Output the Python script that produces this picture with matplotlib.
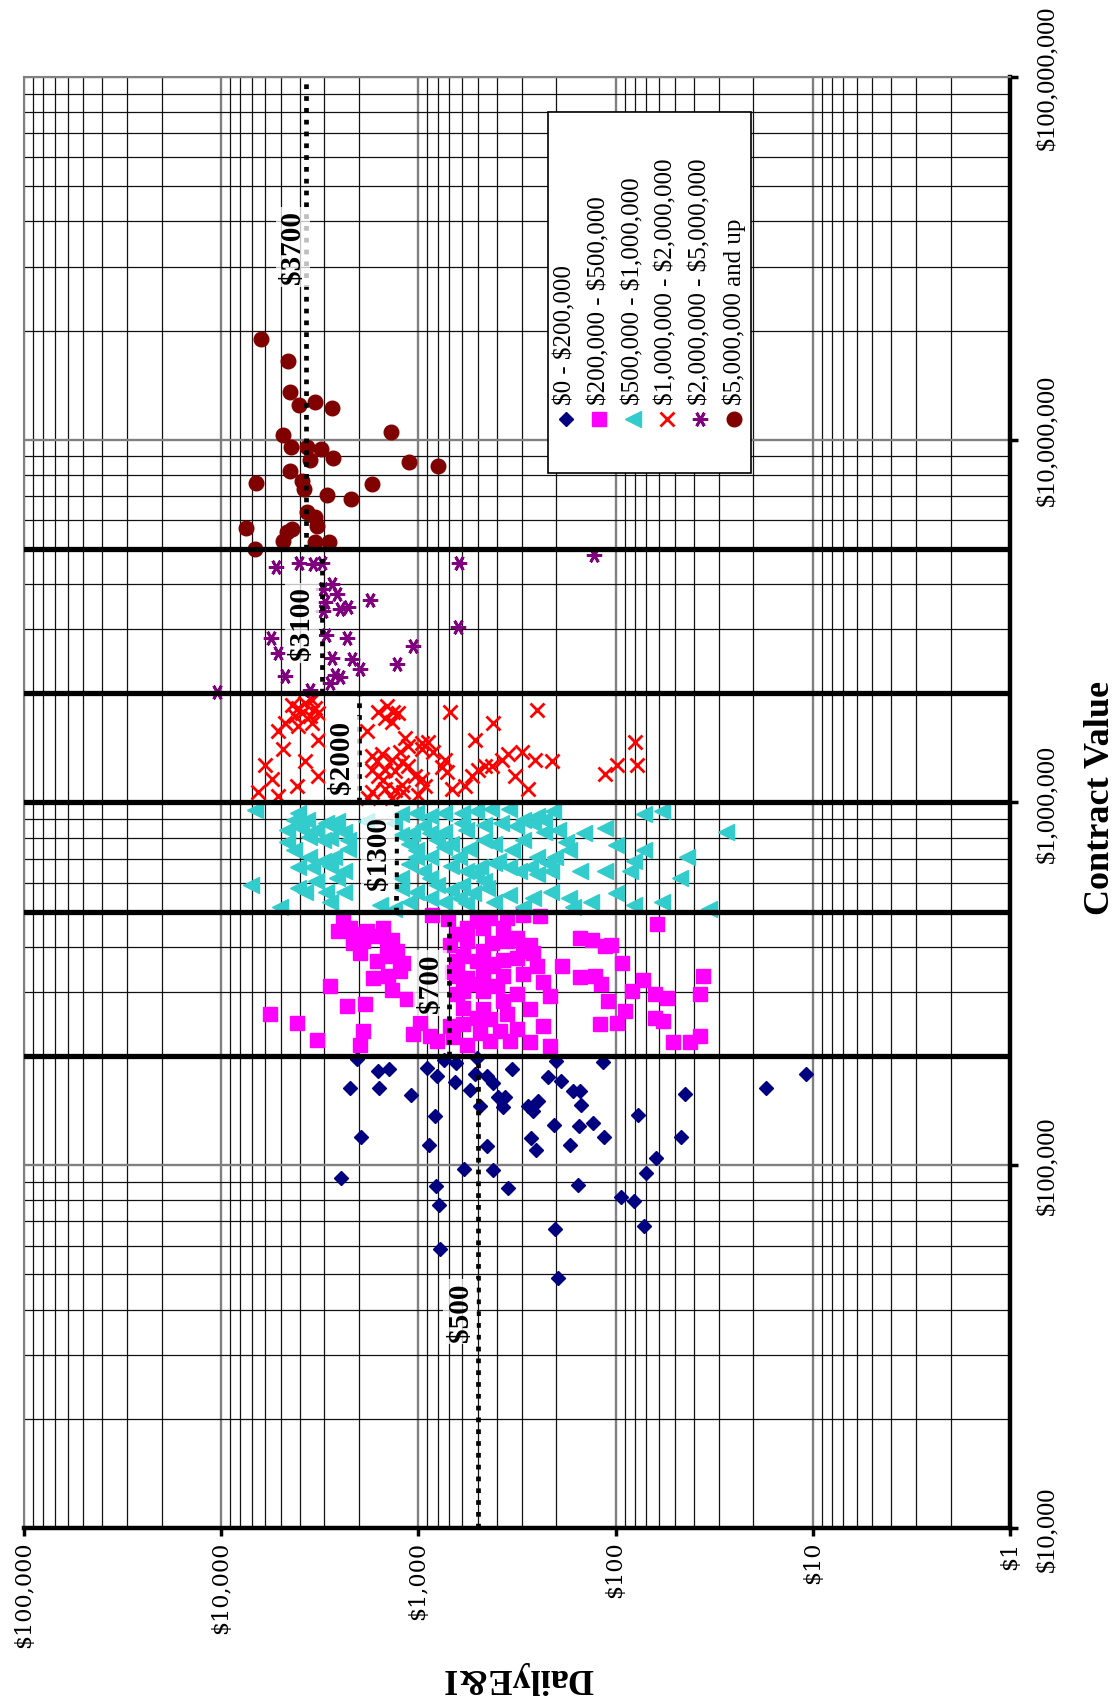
import matplotlib.pyplot as plt
from matplotlib.ticker import FixedLocator, LogLocator, NullFormatter
from matplotlib.patches import Rectangle

plt.rcParams['font.family'] = ['Liberation Serif', 'DejaVu Serif']
plt.rcParams['text.parse_math'] = False

# contract value bands
band_labels = ['$0 - $200,000', '$200,000 - $500,000', '$500,000 - $1,000,000',
               '$1,000,000 - $2,000,000', '$2,000,000 - $5,000,000', '$5,000,000 and up']
band_edges = [1e4, 2e5, 5e5, 1e6, 2e6, 5e6, 1e8]
median_ei = [500, 700, 1300, 2000, 3100, 3700]
median_text = ['$500', '$700', '$1300', '$2000', '$3100', '$3700']

# daily E&I (x) and contract value (y) per band
ei_a = [2060, 1610, 1410, 2220, 1580, 1090, 908, 808, 742, 645, 652, 506, 516, 547, 451, 417,
        487, 393, 364, 371, 334, 277, 261, 248, 221, 201, 189, 164, 152, 150, 116, 824, 1954,
        884, 451, 269, 254, 205, 170, 153, 130, 114, 76.7, 44.5, 46.6, 62.4, 70.4, 2469, 585,
        420, 814, 353, 155, 786, 94.3, 80.4, 204, 71.5, 777, 197, 17.3, 10.8]
cv_a = [196e3, 182e3, 184e3, 163e3, 163e3, 156e3, 185e3, 176e3, 195e3, 191e3, 170e3, 197e3,
        178e3, 161e3, 176e3, 169e3, 146e3, 154e3, 154e3, 145e3, 184e3, 146e3, 141e3, 150e3,
        175e3, 194e3, 171e3, 160e3, 160e3, 147e3, 193e3, 137e3, 120e3, 114e3, 113e3, 119e3,
        110e3, 129e3, 114e3, 128e3, 131e3, 120e3, 138e3, 157e3, 120e3, 105e3, 95e3, 92e3,
        97.5e3, 97e3, 87.7e3, 86.8e3, 88e3, 77.8e3, 82e3, 79.8e3, 66.9e3, 67.8e3, 58.7e3,
        49e3, 163e3, 178e3]

ei_b = [2403, 2547, 857, 705, 506, 434, 357, 294, 242, 569, 469, 371, 61.9,
        2056, 1902, 1628, 1367, 2138, 1449, 569, 425, 318, 272, 152, 132, 113, 105,
        1978, 1394, 1193, 592, 506, 442, 371, 318, 261, 251, 188, 93.2,
        2807, 1693, 1421, 1240, 678, 569, 469, 371, 294, 233, 152, 127, 118, 72.3, 35.9,
        1367, 1147, 592, 469, 401, 318, 215, 82.9, 63.1, 55.1, 37.3, 2311, 1866, 109,
        5657, 4143, 592, 469, 357, 272, 434, 89.6, 63.1, 57.3, 120, 98.8,
        3280, 1902, 1978, 982, 1061, 874, 692, 592, 487, 386, 318, 233, 272, 569, 434, 215,
        51.0, 42.0, 37.3,
        2223, 1830, 1506, 1290, 1628, 640, 692, 640, 469, 357, 294, 640, 547, 371, 506, 343,
        665, 808, 640, 417]
cv_b = [476e3, 442e3, 491e3, 476e3, 471e3, 481e3, 481e3, 491e3, 486e3, 452e3, 452e3, 452e3, 463e3,
        433e3, 415e3, 428e3, 419e3, 411e3, 398e3, 415e3, 411e3, 424e3, 406e3, 424e3, 419e3, 402e3, 406e3,
        385e3, 377e3, 362e3, 377e3, 366e3, 354e3, 369e3, 373e3, 385e3, 354e3, 354e3, 362e3,
        312e3, 329e3, 332e3, 343e3, 340e3, 329e3, 332e3, 332e3, 336e3, 319e3, 330e3, 332e3, 315e3,
        325e3, 332e3,
        305e3, 287e3, 302e3, 302e3, 312e3, 296e3, 293e3, 302e3, 296e3, 290e3, 296e3, 275e3, 278e3, 284e3,
        261e3, 247e3, 272e3, 269e3, 262e3, 269e3, 253e3, 266e3, 255e3, 250e3, 245e3, 247e3,
        221e3, 235e3, 215e3, 247e3, 230e3, 227e3, 242e3, 245e3, 232e3, 235e3, 237e3, 242e3, 218e3,
        215e3, 220e3, 213e3, 218e3, 218e3, 227e3,
        452e3, 442e3, 452e3, 390e3, 366e3, 433e3, 406e3, 366e3, 390e3, 415e3, 390e3, 296e3, 315e3,
        284e3, 255e3, 220e3, 225e3, 220e3, 332e3, 358e3]

ei_c = [6740, 4087, 3681, 2927, 2583, 1850, 1220, 1032, 874, 739, 600, 508, 430, 349, 295, 250,
        230, 207, 71.6, 58.1,
        4630, 3920, 3317, 2693, 2377, 4630, 3606, 2807, 2279, 1220, 1076, 874, 739, 600, 576, 467,
        379, 321, 261, 230, 195, 145, 113, 27.4,
        4260, 3606, 3051, 2693, 2279, 1122, 1032, 874, 739, 680, 552, 467, 396, 335, 295, 250, 203,
        179, 172, 99.9, 71.6, 43.4, 81.1, 221, 272,
        7025, 4087, 3458, 2807, 2377, 1122, 949, 874, 680, 576, 508, 467, 412, 349, 308, 250, 212,
        152, 113, 84.6, 47.2,
        4087, 3317, 2927, 2377, 1220, 1032, 874, 680, 600, 530, 448, 349, 261, 212, 172, 134, 99.9,
        81.1, 58.1, 2807,
        5032, 1566, 1326, 1122, 739, 576, 412, 295, 165, 33.8,
        1326, 949, 804, 626, 487, 1220, 804, 626, 1032, 412, 4260, 3051, 2583, 3760]
cv_c = [953e3, 937e3, 897e3, 878e3, 887e3, 887e3, 927e3, 937e3, 917e3, 937e3, 937e3, 947e3, 957e3,
        957e3, 897e3, 917e3, 897e3, 947e3, 927e3, 947e3,
        840e3, 850e3, 840e3, 859e3, 831e3, 779e3, 805e3, 796e3, 787e3, 813e3, 822e3, 822e3, 831e3,
        878e3, 840e3, 868e3, 878e3, 859e3, 878e3, 831e3, 840e3, 822e3, 850e3, 831e3,
        738e3, 706e3, 691e3, 706e3, 746e3, 770e3, 738e3, 706e3, 754e3, 770e3, 746e3, 787e3, 691e3,
        738e3, 787e3, 706e3, 706e3, 779e3, 738e3, 762e3, 738e3, 706e3, 691e3, 683e3, 662e3,
        593e3, 662e3, 662e3, 669e3, 647e3, 676e3, 647e3, 620e3, 669e3, 647e3, 634e3, 607e3, 683e3,
        662e3, 647e3, 634e3, 647e3, 647e3, 647e3, 647e3, 620e3,
        581e3, 607e3, 568e3, 568e3, 581e3, 568e3, 544e3, 574e3, 593e3, 562e3, 581e3, 556e3, 544e3,
        568e3, 544e3, 532e3, 562e3, 521e3, 532e3, 532e3,
        515e3, 521e3, 510e3, 532e3, 532e3, 527e3, 532e3, 515e3, 515e3, 510e3,
        878e3, 859e3, 787e3, 706e3, 662e3, 620e3, 593e3, 544e3, 706e3, 770e3, 897e3, 787e3, 620e3,
        568e3]

ei_d = [4392, 4063, 3758, 3477, 3344, 4224, 3908, 3545, 3217, 4748, 1597, 1448, 1340, 1264, 1477,
        1366, 692, 251, 417,
        5132, 4063, 3477, 1830, 1169, 1125, 516, 79.7, 4841, 3217,
        962, 890, 840, 1240, 1726, 1536, 1628, 1366, 1216, 733, 3758, 5996, 460, 378, 350, 300, 256,
        211, 98.8, 78.2, 962,
        1726, 1477, 1597, 1314, 1125, 1040, 762, 719, 537, 497, 425, 324, 113, 5548, 3217, 962, 1216,
        1506,
        6481, 5132, 4143, 1726, 1477, 1314, 926, 678, 580, 277, 1366, 1192, 1001, 1795]
cv_d = [1.86e6, 1.82e6, 1.88e6, 1.92e6, 1.82e6, 1.73e6, 1.76e6, 1.73e6, 1.76e6, 1.66e6, 1.78e6,
        1.84e6, 1.78e6, 1.76e6, 1.71e6, 1.67e6, 1.78e6, 1.80e6, 1.66e6,
        1.57e6, 1.62e6, 1.66e6, 1.57e6, 1.51e6, 1.43e6, 1.49e6, 1.47e6, 1.40e6, 1.49e6,
        1.46e6, 1.47e6, 1.38e6, 1.38e6, 1.34e6, 1.36e6, 1.30e6, 1.31e6, 1.29e6, 1.31e6, 1.30e6,
        1.27e6, 1.26e6, 1.31e6, 1.36e6, 1.38e6, 1.31e6, 1.30e6, 1.27e6, 1.27e6, 1.40e6,
        1.23e6, 1.23e6, 1.18e6, 1.22e6, 1.26e6, 1.18e6, 1.25e6, 1.21e6, 1.18e6, 1.23e6, 1.26e6,
        1.18e6, 1.20e6, 1.16e6, 1.18e6, 1.16e6, 1.12e6, 1.15e6,
        1.07e6, 1.04e6, 1.11e6, 1.07e6, 1.09e6, 1.08e6, 1.11e6, 1.09e6, 1.11e6, 1.09e6, 1.03e6,
        1.07e6, 1.05e6, 1.03e6]

ei_e = [5274, 4017, 3438, 3094, 620, 128, 2753, 3035, 2597, 1760, 2976, 3035, 2498, 2266, 5591,
        2942, 2311, 627, 1061, 5132, 2753, 2180, 1978, 1289, 4748, 2648, 2498, 2807, 10544, 3545]
cv_e = [4.47e6, 4.58e6, 4.54e6, 4.56e6, 4.58e6, 4.80e6, 4.01e6, 3.87e6, 3.75e6, 3.61e6, 3.56e6,
        3.38e6, 3.42e6, 3.45e6, 2.84e6, 2.90e6, 2.85e6, 3.05e6, 2.70e6, 2.59e6, 2.50e6, 2.48e6,
        2.33e6, 2.41e6, 2.23e6, 2.24e6, 2.22e6, 2.13e6, 2.02e6, 2.04e6]

ei_f = [6284, 4566, 4479, 4017, 3345, 2753, 4842, 1377, 4444, 3658, 3131, 3545, 2700, 1112, 793,
        4479, 3908, 6662, 3803, 2919, 2205, 1713, 3658, 3345, 3255, 7485, 4656, 4392, 4880, 3345,
        2829, 6741]
cv_f = [18.9e6, 16.5e6, 13.5e6, 12.5e6, 12.7e6, 12.2e6, 10.3e6, 10.5e6, 9.53e6, 9.57e6, 9.43e6,
        8.81e6, 8.89e6, 8.70e6, 8.48e6, 8.19e6, 7.71e6, 7.59e6, 7.32e6, 7.06e6, 6.87e6, 7.54e6,
        6.34e6, 6.11e6, 5.80e6, 5.70e6, 5.56e6, 5.68e6, 5.27e6, 5.24e6, 5.24e6, 5.0e6]

ei_ticks = [1e5, 1e4, 1e3, 1e2, 1e1, 1]
ei_ticklabels = ['$100,000', '$10,000', '$1,000', '$100', '$10', '$1']
cv_ticks = [1e4, 1e5, 1e6, 1e7, 1e8]
cv_ticklabels = ['$10,000', '$100,000', '$1,000,000', '$10,000,000', '$100,000,000']

series = [(ei_a, cv_a), (ei_b, cv_b), (ei_c, cv_c), (ei_d, cv_d), (ei_e, cv_e), (ei_f, cv_f)]
styles = [
    dict(marker='D', ms=7.5, color='#000080', mec='#000080'),
    dict(marker='s', ms=10, color='#FF00FF', mec='#FF00FF'),
    dict(marker='<', ms=11, color='#33CCCC', mec='#33CCCC'),
    dict(marker='x', ms=10, color='#FF0000', mew=2),
    dict(marker=(6, 2, 90), ms=11, color='#800080', mew=2),
    dict(marker='o', ms=10.5, color='#800000', mec='#800000'),
]
# label centres (E&I, contract value) for the median notes
note_pos = [(615, 39.5e3), (873, 318e3), (1600, 727e3), (2450, 1.34e6), (3910, 3.13e6), (4340, 34e6)]

fig = plt.figure(figsize=(11.17, 16.99), dpi=100)
ax = fig.add_axes([0.02149, 0.10006, 0.88272, 0.85403])

ax.set_xscale('log')
ax.set_yscale('log')
ax.set_xlim(1e5, 1)
ax.set_ylim(1e4, 1e8)

for (x, y), st in zip(series, styles):
    ax.plot(x, y, linestyle='none', zorder=3, **st)

for edge in band_edges[1:-1]:
    ax.axhline(edge, color='black', lw=3.8, zorder=4)

for i, m in enumerate(median_ei):
    ax.plot([m, m], [band_edges[i], band_edges[i + 1]], color='black', lw=3.4,
            linestyle=(0, (1, 1.5)), dash_capstyle='butt', zorder=5)

for txt, (px, py) in zip(median_text, note_pos):
    ax.text(px, py, txt, rotation=90, ha='center', va='center', fontsize=21,
            fontweight='bold', zorder=6,
            bbox=dict(boxstyle='square,pad=0.12', facecolor='white', alpha=0.75, edgecolor='none'))

# grid
ax.xaxis.set_major_locator(FixedLocator(ei_ticks))
ax.yaxis.set_major_locator(FixedLocator(cv_ticks))
ax.xaxis.set_minor_locator(LogLocator(base=10, subs=range(2, 10), numticks=20))
ax.yaxis.set_minor_locator(LogLocator(base=10, subs=range(2, 10), numticks=20))
ax.xaxis.set_minor_formatter(NullFormatter())
ax.yaxis.set_minor_formatter(NullFormatter())
ax.set_axisbelow(True)
ax.grid(True, which='major', color='#808080', lw=1.7)
ax.grid(True, which='minor', color='#111111', lw=0.9)

ax.set_xticklabels(ei_ticklabels)
ax.yaxis.tick_right()
ax.set_yticklabels(cv_ticklabels)
ax.tick_params(which='minor', length=0)
ax.tick_params(axis='x', which='major', direction='out', length=6, width=2.5,
               labelsize=16, labelrotation=90, pad=3)
ax.tick_params(axis='y', which='major', direction='out', length=6, width=2.5,
               labelsize=19, labelrotation=90, pad=14)
for lab in ax.get_xticklabels():
    lab.set_fontfamily('DejaVu Serif')
    lab.set_va('top')
for lab in ax.get_yticklabels():
    lab.set_va('center')
    lab.set_ha('left')

for side in ['bottom', 'right']:
    ax.spines[side].set_linewidth(3.2)
    ax.spines[side].set_color('black')
for side in ['top', 'left']:
    ax.spines[side].set_linewidth(1.5)
    ax.spines[side].set_color('#808080')

# legend, drawn turned like the rest of the chart
ax.add_patch(Rectangle((0.531, 0.727), 0.206, 0.249, transform=ax.transAxes,
                       facecolor='white', edgecolor='black', lw=1.2, zorder=7))
for i, (lab, st) in enumerate(zip(band_labels, styles)):
    lx = 0.5494 + i * 0.0341
    ax.plot([lx], [0.7645], transform=ax.transAxes, linestyle='none', zorder=8, **st)
    ax.text(lx, 0.7749, lab, transform=ax.transAxes, rotation=90, ha='center', va='bottom',
            fontsize=18, zorder=8)

fig.text(0.9848, 0.5303, 'Contract Value', rotation=90, ha='center', va='center',
         fontsize=26, fontweight='bold')
fig.text(0.4637, 0.0129, 'DailyE&I', rotation=180, ha='center', va='center',
         fontsize=26, fontweight='bold')

fig.savefig('out.png', dpi=100)
